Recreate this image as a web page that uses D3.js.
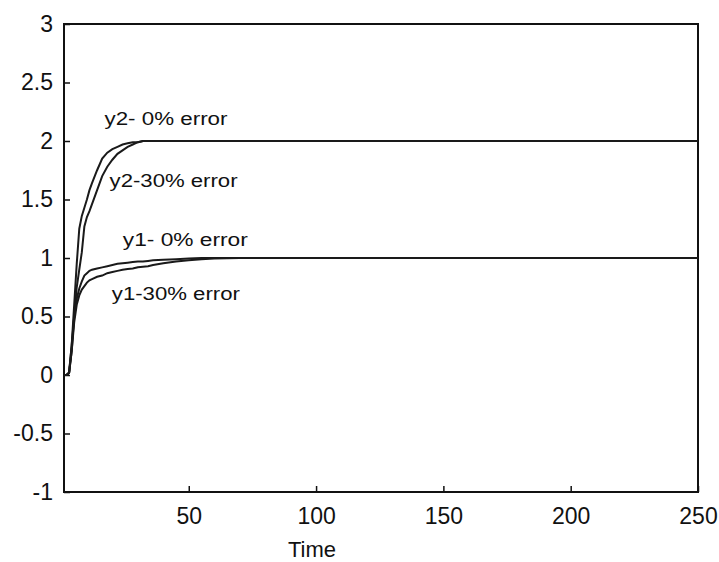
<!DOCTYPE html>
<html lang="en">
<head>
<meta charset="UTF-8">
<script src="https://d3js.org/d3.v7.min.js"></script>
<style>
body{ margin:0; background:#fff; }
.axis text{ font-family:"Liberation Sans", Arial, sans-serif; font-size:23px; fill:#111; }
.axis line{ stroke:#111; stroke-width:1.5; }
.frame{ fill:none; stroke:#111; stroke-width:2; }
.resp{ fill:none; stroke:#1a1a1a; stroke-width:2; }
.note{ font-family:"Liberation Sans", Arial, sans-serif; font-size:18px; fill:#111; }
.xlabel{ font-family:"Liberation Sans", Arial, sans-serif; font-size:22px; fill:#111; }
</style>
</head>
<body>
<svg class="chart"></svg>
<script>
// sample times and the four step responses
const time    = [1, 2, 3, 4, 5, 6, 7, 8, 9, 10, 11, 12, 14, 16, 18, 20, 22, 24, 26, 28, 30, 32, 34, 36, 40, 45, 50, 55, 60, 70, 80, 100, 150, 200, 250];
const y1NoErr = [0, 0, 0.02, 0.25, 0.5, 0.65, 0.74, 0.8, 0.85, 0.87, 0.89, 0.9, 0.91, 0.92, 0.93, 0.94, 0.95, 0.955, 0.96, 0.965, 0.97, 0.97, 0.975, 0.98, 0.985, 0.99, 0.995, 1, 1, 1, 1, 1, 1, 1, 1];
const y1Err30 = [0, 0, 0.02, 0.2, 0.45, 0.6, 0.68, 0.73, 0.76, 0.79, 0.81, 0.82, 0.84, 0.85, 0.87, 0.88, 0.89, 0.9, 0.905, 0.91, 0.92, 0.925, 0.93, 0.94, 0.955, 0.97, 0.98, 0.99, 0.995, 1, 1, 1, 1, 1, 1];
const y2NoErr = [0, 0, 0.02, 0.25, 0.6, 0.95, 1.25, 1.36, 1.43, 1.5, 1.58, 1.64, 1.75, 1.85, 1.9, 1.93, 1.95, 1.97, 1.98, 1.99, 1.99, 2, 2, 2, 2, 2, 2, 2, 2, 2, 2, 2, 2, 2, 2];
const y2Err30 = [0, 0, 0.02, 0.2, 0.5, 0.75, 0.9, 1.05, 1.27, 1.35, 1.4, 1.46, 1.58, 1.7, 1.78, 1.84, 1.89, 1.92, 1.95, 1.97, 1.99, 2, 2, 2, 2, 2, 2, 2, 2, 2, 2, 2, 2, 2, 2];

const xTicks = [50, 100, 150, 200, 250];
const yTicks = [-1, -0.5, 0, 0.5, 1, 1.5, 2, 2.5, 3];

const notes = [
    { text: 'y2- 0% error', t: 16.9, v: 2.14, len: 123 },
    { text: 'y2-30% error', t: 18.9, v: 1.61, len: 128 },
    { text: 'y1- 0% error', t: 24.1, v: 1.10, len: 125 },
    { text: 'y1-30% error', t: 19.8, v: 0.64, len: 128 }
];

let margin = { top: 24, right: 21, bottom: 70, left: 64 },
    W = 719, H = 562,
    width = W - margin.left - margin.right,
    height = H - margin.top - margin.bottom;

let svg = d3.select('.chart')
    .attr('width', W)
    .attr('height', H);

let chart = svg.append('g')
    .attr('transform', 'translate (' + margin.left + ',' + margin.top + ')');

let x = d3.scaleLinear().domain([1, 250]).range([0, width]);
let y = d3.scaleLinear().domain([-1, 3]).range([height, 0]);

// axes, ticks pointing inward
chart.append('g')
    .attr('class', 'x axis')
    .attr('transform', 'translate (0, ' + height + ')')
    .call(d3.axisBottom(x).tickValues(xTicks).tickSizeInner(-6).tickSizeOuter(0)
        .tickPadding(16).tickFormat(d => String(d)))
    .call(g => g.select('.domain').remove());

chart.append('g')
    .attr('class', 'y axis')
    .call(d3.axisLeft(y).tickValues(yTicks).tickSizeInner(-6).tickSizeOuter(0)
        .tickPadding(11).tickFormat(d => String(d)))
    .call(g => g.select('.domain').remove());

chart.append('rect')
    .attr('class', 'frame')
    .attr('width', width)
    .attr('height', height);

// response curves
let line = d3.line()
    .x((d, i) => x(time[i]))
    .y(d => y(d));

[y2Err30, y2NoErr, y1Err30, y1NoErr].forEach(s => {
    chart.append('path')
        .datum(s)
        .attr('class', 'resp')
        .attr('d', line);
});

// curve labels
chart.selectAll('.note')
    .data(notes)
    .enter().append('text')
    .attr('class', 'note')
    .attr('x', d => x(d.t))
    .attr('y', d => y(d.v))
    .attr('textLength', d => d.len)
    .attr('lengthAdjust', 'spacingAndGlyphs')
    .text(d => d.text);

chart.append('text')
    .attr('class', 'xlabel')
    .attr('x', 312 - margin.left)
    .attr('y', height + 65)
    .attr('text-anchor', 'middle')
    .text('Time');
</script>
</body>
</html>
